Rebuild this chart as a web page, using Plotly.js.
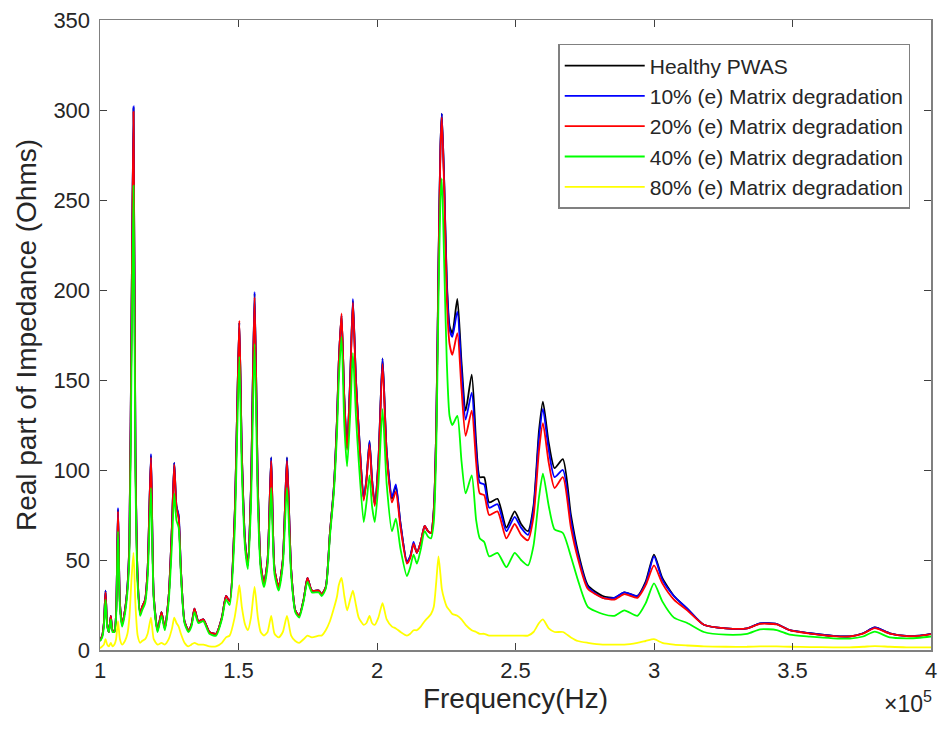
<!DOCTYPE html>
<html>
<head>
<meta charset="utf-8">
<script src="https://cdn.plot.ly/plotly-3.0.1.min.js"></script>
<style>html,body{margin:0;padding:0;background:#fff;}#chart{width:938px;height:731px;}</style>
</head>
<body>
<div id="chart"></div>
<script>
// Frequency in units of 1e5 Hz
var freq = [1.000,1.008,1.014,1.020,1.026,1.032,1.039,1.045,1.052,1.058,
1.065,1.072,1.080,1.090,1.099,1.106,1.114,1.121,1.128,1.136,
1.145,1.152,1.163,1.172,1.184,1.194,1.208,1.222,1.234,1.248,
1.260,1.268,1.276,1.284,1.292,1.305,1.319,1.330,1.341,1.355,
1.373,1.395,1.419,1.440,1.455,1.468,1.486,1.496,1.503,1.512,
1.524,1.534,1.545,1.558,1.570,1.580,1.592,1.605,1.618,1.630,
1.645,1.660,1.675,1.690,1.705,1.719,1.735,1.749,1.765,1.790,
1.800,1.815,1.830,1.844,1.856,1.862,1.872,1.882,1.892,1.903,
1.913,1.924,1.934,1.952,1.962,1.973,1.982,1.992,2.005,2.020,
2.035,2.054,2.068,2.085,2.108,2.120,2.132,2.144,2.158,2.172,
2.184,2.195,2.205,2.214,2.222,2.229,2.234,2.243,2.252,2.262,
2.272,2.290,2.305,2.320,2.342,2.358,2.371,2.387,2.405,2.435,
2.467,2.497,2.520,2.545,2.565,2.585,2.599,2.620,2.641,2.671,
2.700,2.725,2.761,2.815,2.857,2.893,2.940,2.970,3.000,3.030,
3.072,3.120,3.180,3.260,3.336,3.383,3.443,3.490,3.563,3.647,
3.707,3.755,3.797,3.851,3.911,3.960,4.000];

var healthy = [5,8,15,33,14,10,19,11,10,20,
78,26,14,22,35,60,190,301,110,40,
20,24,28,45,108,30,11,21,12,30,
70,104,80,74,45,16,11,14,23,16,
17,10,9,18,30,27,74,140,182,110,
60,47,90,198,90,48,37,50,107,45,
35,50,107,45,22,19,28,40,33,33,
31,35,65,90,130,160,186,140,112,150,
194,150,123,84,95,116,95,81,105,162,
110,84,91,70,49,52,59,54,60,69,
66,65,78,125,215,280,298,258,205,180,
176,195,160,133,153,115,96,96,82,84,
68,77,70,66,80,122,138,115,101,106,
75,55,36,30,29,32,30,38,53,40,
30,23,14,12,12,14.8,14.4,11,9.3,7.8,
7.6,9.3,12.5,9.3,7.8,8,9];

var deg10 = [5,8,15,33,14,10,19,11,10,20,
79,26,14,22,35,60,190,302,110,40,
20,24,28,45,109,30,11,21,12,30,
70,104,80,75,45,16,11,14,23,16,
17,10,9,18,30,27,74,140,182,110,
60,47,90,199,90,48,37,50,107,45,
35,50,107,45,22,19,28,40,33,33,
31,35,65,90,130,160,186,140,112,150,
195,150,123,84,95,116,95,81,105,162,
110,85,92,70,49,52,60,54,60,69,
66,65,78,125,215,280,298,258,203,178,
174,188,155,128,143,110,93,92,79,81,
66,74,68,64,78,118,134,111,96,100,
72,53,35,29,29,32,30,37,52,39,
30,23,14,12,12,14.8,14.4,11,9.3,7.8,
7.6,9.3,12.5,9.3,7.8,8,9];

var deg20 = [5,8,15,32,14,10,19,11,10,20,
77,26,14,22,34,59,188,299,108,40,
20,24,28,45,107,30,11,21,12,30,
69,103,79,73,45,16,11,14,23,16,
17,10,9,18,30,27,73,139,183,109,
59,47,89,196,89,48,37,50,105,45,
35,50,105,45,22,19,28,40,33,33,
31,35,65,89,129,159,187,139,111,148,
193,148,121,83,94,114,93,80,103,159,
108,82,88,68,48,51,59,54,60,69,
66,65,77,123,212,277,296,254,195,170,
164,176,145,119,133,104,87,86,75,77,
62,70,64,61,74,111,126,104,90,96,
68,51,34,29,28,31,29,36,47,37,
28,22,14,12,12,14.5,14.2,11,9.1,7.7,
7.5,9.1,12.2,9.1,7.7,7.9,8.8];

var deg40 = [5,7,13,28,13,10,17,10,10,18,
66,23,13,20,32,52,162,258,95,36,
19,22,26,40,90,28,10,19,11,27,
60,87,72,68,42,15,10,13,21,15,
16,9,8,17,28,25,65,125,163,100,
56,45,80,170,80,45,35,47,90,42,
33,47,90,42,21,18,27,38,32,32,
30,34,63,87,122,150,174,125,102,130,
165,130,105,71,82,97,80,71,92,134,
92,66,73,56,41,46,53,48,56,66,
63,62,71,112,195,250,262,212,160,130,
125,130,105,87,97,72,62,60,52,54,
46,54,50,47,58,85,98,80,67,65,
52,39,24,20,19,22,19,26,37,27,
18,15,10,8.5,9,11.5,11.1,8.5,7.4,6.5,
6.3,7.5,10.2,7,6.5,6.8,7.5];

var deg80 = [1,2,3,6,3,2,4,2,3,6,
16,6,3,5,9,18,40,54,25,8,
4,5,6,9,18,6,3,4,3,6,
12,18,15,13,9,4,2,3,4,3,
3,2,2,4,7,8,18,28,36,24,
14,11,18,35,18,10,8,10,19,9,
7,10,19,8,5,4,6,8,7,8,
8,11,16,23,30,36,40,30,22,28,
33,25,18,14,15,19,15,14,18,26,
17,13,12,10,8,9,11,11,13,16,
18,20,24,38,52,42,34,28,24,22,
20,19,17,14,11,10,9,9,8,8,
8,8,8,8,10,15,17,12,10,10,
7,5,4,3,3,3,4,5,6,4,
3,2.5,2,1.8,1.8,2,2,1.8,1.6,1.5,
1.5,1.8,2.2,1.8,1.5,1.5,1.5];

var seriesNames = ["Healthy PWAS","10% (e) Matrix degradation","20% (e) Matrix degradation","40% (e) Matrix degradation","80% (e) Matrix degradation"];
var seriesColors = ["#000000","#0000ff","#ff0000","#00ff00","#ffff00"];
var seriesValues = [healthy, deg10, deg20, deg40, deg80];

var xTickVals = [1,1.5,2,2.5,3,3.5,4];
var xTickText = ["1","1.5","2","2.5","3","3.5","4"];
var yTickVals = [0,50,100,150,200,250,300,350];

var traces = seriesValues.map(function(v,i){
  return {x: freq, y: v, type:'scatter', mode:'lines', name: seriesNames[i],
          line:{color: seriesColors[i], width:1.8, shape:'spline', smoothing:0.6}};
});

var fontFam = '"Liberation Sans", Arial, Helvetica, sans-serif';
var layout = {
  width:938, height:731,
  margin:{l:100, r:7, t:20, b:81},
  paper_bgcolor:'#fff', plot_bgcolor:'#fff',
  font:{family:fontFam, color:'#262626', size:21},
  showlegend:true,
  legend:{x:0.975, y:0.962, xanchor:'right', yanchor:'top', bgcolor:'#fff',
          bordercolor:'#808080', borderwidth:1.5, font:{size:21, color:'#262626'},
          tracegroupgap:0, itemwidth:80},
  xaxis:{range:[1,4], tickvals:xTickVals, ticktext:xTickText, ticks:'inside', ticklen:7,
         tickcolor:'#404040', showline:true, linecolor:'#808080', linewidth:1.5, mirror:'ticks',
         showgrid:false, zeroline:false, tickfont:{size:22, color:'#262626'},
         ticklabeloverflow:'allow',
         title:{text:'Frequency(Hz)', font:{size:28, color:'#262626'}, standoff:2}},
  yaxis:{range:[0,350], tickvals:yTickVals, ticks:'inside', ticklen:7,
         tickcolor:'#404040', showline:true, linecolor:'#808080', linewidth:1.5, mirror:'ticks',
         showgrid:false, zeroline:false, tickfont:{size:22, color:'#262626'},
         ticklabelstandoff:4,
         title:{text:'Real part of Impedance (Ohms)', font:{size:28, color:'#262626'}, standoff:8}},
  annotations:[{xref:'paper', yref:'paper', x:1.004, y:0, xanchor:'right', yanchor:'top', yshift:-35,
                text:'\u00d710<sup>5</sup>', showarrow:false, font:{size:23, color:'#262626'}}]
};

Plotly.newPlot('chart', traces, layout, {displayModeBar:false, staticPlot:true});
</script>
</body>
</html>
